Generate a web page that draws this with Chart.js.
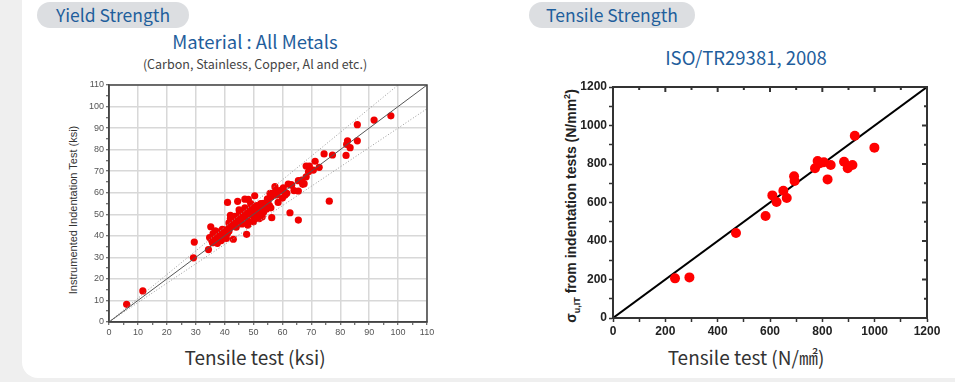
<!DOCTYPE html>
<html>
<head>
<meta charset="utf-8">
<script src="https://cdn.jsdelivr.net/npm/chart.js@4"></script>
<style>
  html, body { margin: 0; padding: 0; }
  body { width: 955px; height: 382px; background: #efefef; position: relative; overflow: hidden; font-family: "Noto Sans CJK KR", "Noto Sans", sans-serif; }
  #panel { position: absolute; left: 22px; top: -20px; width: 960px; height: 398px; background: #fff; border-radius: 16px; }
  .pill { position: absolute; top: 2px; height: 26px; line-height: 26px; background: #dcdee1; border-radius: 13px; color: #1f5e9c; font-size: 17.5px; text-align: center; }
  .title { position: absolute; color: #1f5e9c; font-size: 18.5px; text-align: center; white-space: nowrap; }
  .sub { position: absolute; color: #444; font-size: 12.5px; text-align: center; white-space: nowrap; }
  .xtitle { position: absolute; color: #333; font-size: 19px; text-align: center; white-space: nowrap; }
  .ytitle { position: absolute; white-space: nowrap; transform: translate(-50%, -50%) rotate(-90deg); }
  canvas { position: absolute; }
</style>
</head>
<body>
<div id="panel"></div>
<div class="pill" style="left:37px;width:152px;">Yield Strength</div>
<div class="pill" style="left:529px;width:166px;">Tensile Strength</div>

<div class="title" style="left:155px;width:200px;top:28px;">Material : All Metals</div>
<div class="sub" style="left:105px;width:300px;top:54px;">(Carbon, Stainless, Copper, Al and etc.)</div>
<div class="title" style="left:646px;width:200px;top:44px;">ISO/TR29381, 2008</div>

<div class="ytitle" style="left:73px;top:210px;font:11px Arial, 'Liberation Sans', sans-serif;color:#333;">Instrumented Indentation Test (ksi)</div>
<div class="ytitle" style="left:572px;top:206px;font:bold 14px Arial, 'Liberation Sans', sans-serif;color:#222;">σ<sub style="font-size:9px;">u,IT</sub> from indentation tests (N/mm<sup style="font-size:9px;">2</sup>)</div>

<div class="xtitle" style="left:155px;width:200px;top:343px;">Tensile test (ksi)</div>
<div class="xtitle" style="left:646px;width:200px;top:343px;">Tensile test (N/㎟)</div>

<canvas id="yield" width="385" height="267" style="left:60px;top:75px;width:385px;height:267px;"></canvas>
<canvas id="tensile" width="365" height="263" style="left:580px;top:77px;width:365px;height:263px;"></canvas>

<script>
// yield strength, ksi: [tensile test, instrumented indentation]
const yieldPoints = [
    [6.1, 8.2], [11.7, 14.4], [29.5, 37.1], [29.2, 29.8], [34.4, 33.6], [35.2, 44.2],
    [35.5, 38], [36, 39.5], [36.5, 37.5], [37, 40], [37.2, 38.5], [37.8, 41], [38, 39],
    [38.5, 42], [39, 40.5], [39.5, 41.5], [40, 42.5], [40.3, 40], [40.8, 43], [41, 41.2],
    [36, 41], [35.8, 36.8], [37.5, 36.5], [38.8, 37.8], [39.8, 39], [41.5, 42.2], [42, 44],
    [36.8, 42.3], [38.2, 40.2], [39.2, 43], [40.6, 38.8], [34.8, 39.2],
    [43, 38.4], [47.6, 40.7],
    [41.5, 46], [42, 48], [42.5, 45], [43, 47.5], [43.5, 49], [44, 46.5], [44.5, 48],
    [45, 50], [45.5, 47], [46, 48.5], [46.5, 51], [47, 49], [47.5, 50.5], [48, 47],
    [48.5, 52], [49, 50], [49.5, 53], [50, 49], [50.5, 51.5], [51, 54], [51.5, 52],
    [52, 50.5], [52.5, 55], [53, 53], [53.5, 51], [54, 54.5], [54.5, 52.5], [55, 56],
    [55.5, 54], [56, 53], [44, 44], [46, 45.5], [48, 45], [50, 46.5], [52, 48],
    [42, 49.5], [45, 52], [47, 53], [49, 55], [44.5, 56], [41, 55.5], [47, 57],
    [50.4, 58.6], [48.2, 56.9], [53.4, 55.1], [55.7, 59.7], [51.5, 50], [53, 48.8],
    [56.3, 48.4], [62.6, 50.7], [65.5, 47.3], [76.2, 56.1],
    [56, 58], [57, 60], [57.4, 62.8], [58, 59], [59, 61], [60, 57.5], [60.3, 62.3],
    [61, 60], [61.5, 59.7], [62, 64], [63, 63.6], [64, 61], [65.5, 60.8], [65.5, 65.6],
    [66.7, 65.9], [67, 63.9], [67.5, 64.2], [68.2, 67.4], [68.2, 72.4], [69.3, 72.4],
    [70.7, 70.5], [71.3, 74.6], [72.7, 71.8], [74.4, 78], [77.3, 77.5], [82, 77.3],
    [82.5, 84.1], [82.2, 82.4], [83.4, 80.9], [85.9, 84.1], [85.9, 91.6], [91.7, 93.7],
    [97.5, 95.7], [69, 69.7], [60.9, 58.9], [63.2, 63.6], [58.5, 55.5], [54.8, 57.2]
];
// reference lines, ksi: 1:1 line and +/-10% band
const yieldFit = [[0, 0], [110, 110]];
const yieldUpper = [[0, 0], [100, 110]];
const yieldLower = [[0, 0], [110, 99]];
const yieldTicks = [0, 10, 20, 30, 40, 50, 60, 70, 80, 90, 100, 110];

// tensile strength, N/mm2: [tensile test, indentation]
const tensilePoints = [
    [237, 206], [292, 211], [470, 442], [583, 530], [609, 637], [625, 603], [651, 661],
    [664, 623], [692, 736], [694, 712], [772, 778], [782, 816], [791, 804], [806, 809],
    [832, 795], [820, 720], [883, 812], [897, 778], [915, 795], [924, 947], [999, 885]
];
const tensileFit = [[0, 0], [1200, 1200]];
const tensileTicks = [0, 200, 400, 600, 800, 1000, 1200];

const toXY = arr => arr.map(p => ({ x: p[0], y: p[1] }));

// box around the plot area
const framePlugin = {
    id: 'frame',
    afterDraw(chart, args, opts) {
        const a = chart.chartArea;
        const ctx = chart.ctx;
        ctx.save();
        ctx.strokeStyle = opts.color;
        ctx.lineWidth = opts.width;
        ctx.strokeRect(a.left, a.top, a.right - a.left, a.bottom - a.top);
        // inward ticks on top and right edges
        if (opts.innerStep) {
            const xs = chart.scales.x, ys = chart.scales.y;
            for (let v = xs.min; v <= xs.max; v += opts.innerStep) {
                const len = v % (opts.innerStep * 2) === 0 ? 5 : 3;
                const px = xs.getPixelForValue(v);
                ctx.beginPath(); ctx.moveTo(px, a.top); ctx.lineTo(px, a.top + len); ctx.stroke();
            }
            for (let v = ys.min; v <= ys.max; v += opts.innerStep) {
                const len = v % (opts.innerStep * 2) === 0 ? 5 : 3;
                const py = ys.getPixelForValue(v);
                ctx.beginPath(); ctx.moveTo(a.right, py); ctx.lineTo(a.right - len, py); ctx.stroke();
            }
        }
        ctx.restore();
    }
};

const smallFont = { family: 'Arial, "Liberation Sans", sans-serif', size: 9 };

new Chart(document.getElementById('yield'), {
    type: 'scatter',
    data: {
        datasets: [
            { data: toXY(yieldPoints), backgroundColor: '#f00000', borderColor: '#f00000', pointRadius: 3.6, borderWidth: 0, order: 2 },
            { data: toXY(yieldFit), showLine: true, borderColor: '#555', borderWidth: 1, pointRadius: 0, order: 1 },
            { data: toXY(yieldUpper), showLine: true, borderColor: '#999', borderWidth: 1, borderDash: [1, 2], pointRadius: 0, order: 1 },
            { data: toXY(yieldLower), showLine: true, borderColor: '#999', borderWidth: 1, borderDash: [1, 2], pointRadius: 0, order: 1 }
        ]
    },
    options: {
        responsive: false,
        animation: false,
        layout: { padding: { top: 10, right: 18, bottom: 0, left: 0 } },
        plugins: { legend: { display: false }, tooltip: { enabled: false }, frame: { color: '#444', width: 1.5 } },
        scales: {
            x: {
                min: 0, max: 110,
                afterFit: s => { s.height = 20; },
                ticks: { stepSize: 5, autoSkip: false, maxRotation: 0, padding: 2, color: '#555', font: smallFont,
                    callback: v => yieldTicks.includes(v) ? v : '' },
                grid: { color: c => c.tick && c.tick.value % 10 === 0 ? '#d8d8d8' : 'rgba(0,0,0,0)', lineWidth: 1.5,
                    tickColor: '#444', tickLength: 3, tickWidth: 1 },
                border: { color: '#444', width: 1.5 }
            },
            y: {
                min: 0, max: 110,
                afterFit: s => { s.width = 49; },
                ticks: { stepSize: 5, autoSkip: false, padding: 2, color: '#555', font: smallFont,
                    callback: v => yieldTicks.includes(v) ? v : '' },
                grid: { color: c => c.tick && c.tick.value % 10 === 0 ? '#d8d8d8' : 'rgba(0,0,0,0)', lineWidth: 1.5,
                    tickColor: '#444', tickLength: 3, tickWidth: 1 },
                border: { color: '#444', width: 1.5 }
            }
        }
    },
    plugins: [framePlugin]
});

const boldFont = { family: 'Arial, "Liberation Sans", sans-serif', size: 12, weight: 'bold' };

new Chart(document.getElementById('tensile'), {
    type: 'scatter',
    data: {
        datasets: [
            { data: toXY(tensileFit), showLine: true, borderColor: '#000', borderWidth: 2, pointRadius: 0, order: 2 },
            { data: toXY(tensilePoints), backgroundColor: '#ff0000', borderColor: '#ff0000', pointRadius: 5, borderWidth: 0, order: 1 }
        ]
    },
    options: {
        responsive: false,
        animation: false,
        layout: { padding: { top: 10, right: 18, bottom: 0, left: 0 } },
        plugins: { legend: { display: false }, tooltip: { enabled: false }, frame: { color: '#333', width: 2, innerStep: 100 } },
        scales: {
            x: {
                min: 0, max: 1200,
                afterFit: s => { s.height = 22; },
                ticks: { stepSize: 100, autoSkip: false, maxRotation: 0, padding: 2, color: '#222', font: boldFont,
                    callback: v => tensileTicks.includes(v) ? v : '' },
                grid: { drawOnChartArea: false, tickColor: '#333', tickLength: 4, tickWidth: 1.5 },
                border: { color: '#333', width: 2 }
            },
            y: {
                min: 0, max: 1200,
                afterFit: s => { s.width = 33; },
                ticks: { stepSize: 100, autoSkip: false, padding: 2, color: '#222', font: boldFont,
                    callback: v => tensileTicks.includes(v) ? v : '' },
                grid: { drawOnChartArea: false, tickColor: '#333', tickLength: 4, tickWidth: 1.5 },
                border: { color: '#333', width: 2 }
            }
        }
    },
    plugins: [framePlugin]
});
</script>
</body>
</html>
